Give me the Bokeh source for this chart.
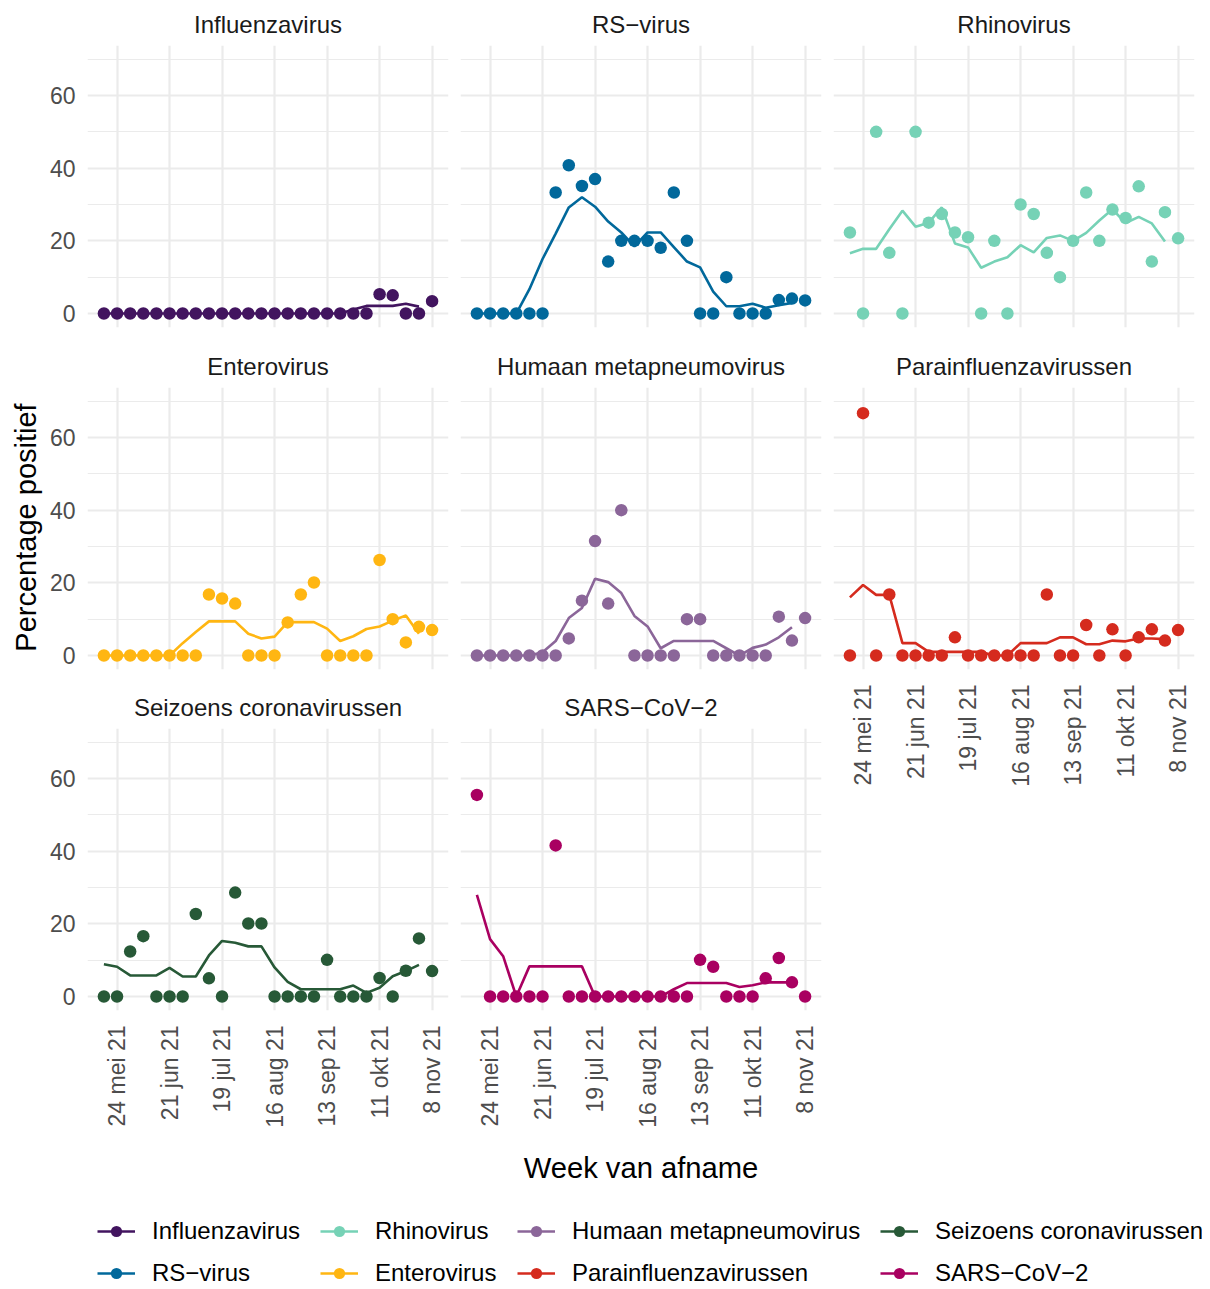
import math
import pandas as pd
from bokeh.plotting import figure
from bokeh.layouts import row, column
from bokeh.models import (Range1d, FixedTicker, LinearAxis, Grid, ColumnDataSource,
                          Legend, LegendItem, Label)
from bokeh.embed import file_html
from bokeh.resources import INLINE

nan = float("nan")

# ---------------- data ----------------
WEEKS = ["2021-05-17", "2021-05-24", "2021-05-31", "2021-06-07", "2021-06-14", "2021-06-21",
         "2021-06-28", "2021-07-05", "2021-07-12", "2021-07-19", "2021-07-26", "2021-08-02",
         "2021-08-09", "2021-08-16", "2021-08-23", "2021-08-30", "2021-09-06", "2021-09-13",
         "2021-09-20", "2021-09-27", "2021-10-04", "2021-10-11", "2021-10-18", "2021-10-25",
         "2021-11-01", "2021-11-08"]
TICK_DATES = ["2021-05-24", "2021-06-21", "2021-07-19", "2021-08-16", "2021-09-13",
              "2021-10-11", "2021-11-08"]
TICK_LABELS = ["24 mei 21", "21 jun 21", "19 jul 21", "16 aug 21", "13 sep 21",
               "11 okt 21", "8 nov 21"]
Y_TICKS = [0, 20, 40, 60]
Y_MINOR = [10, 30, 50, 70]

INFLUENZA_PCT = [0, 0, 0, 0, 0, 0, 0, 0, 0, 0, 0, 0, 0, 0, 0, 0, 0, 0, 0, 0, 0,
                 5.3, 5.0, 0, 0, 3.4]
INFLUENZA_AVG = [0, 0, 0, 0, 0, 0, 0, 0, 0, 0, 0, 0, 0, 0, 0, 0, 0, 0, 0,
                 1.1, 2.1, 2.1, 2.1, 2.7, 1.9, nan]

RS_PCT = [0, 0, 0, 0, 0, 0, 33.3, 40.8, 35.1, 37.0, 14.3, 20.0, 20.0, 20.0, 18.1, 33.3,
          20.0, 0, 0, 10.0, 0, 0, 0, 3.7, 4.1, 3.6]
RS_AVG = [0, 0, 0, 0, 6.7, 15.0, 22.0, 29.2, 32.0, 29.4, 25.3, 22.3, 18.5, 22.3, 22.3, 18.3,
          14.3, 12.7, 6.0, 2.0, 2.0, 2.7, 1.6, 2.3, 2.9, nan]

RHINO_PCT = [22.3, 0, 50.0, 16.7, 0, 50.0, 25.0, 27.4, 22.3, 21.0, 0, 20.0, 0, 30.0, 27.4,
             16.7, 10.0, 20.0, 33.3, 20.0, 28.6, 26.3, 35.0, 14.3, 27.9, 20.7]
RHINO_AVG = [16.6, 17.8, 17.8, 23.2, 28.3, 23.9, 25.0, 29.2, 19.3, 18.2, 12.6, 14.3, 15.5,
             18.8, 16.8, 20.8, 21.5, 20.0, 22.2, 25.6, 28.7, 24.9, 26.6, 24.8, 19.8, nan]

ENTERO_PCT = [0, 0, 0, 0, 0, 0, 0, 0, 16.8, 15.7, 14.3, 0, 0, 0, 9.1, 16.8, 20.1, 0, 0, 0,
              0, 26.3, 10.0, 3.6, 7.9, 7.0]
ENTERO_AVG = [0, 0, 0, 0, 0, 0, 3.4, 6.5, 9.4, 9.4, 9.4, 6.0, 4.7, 5.2, 9.2, 9.2, 9.2, 7.4,
              4.0, 5.3, 7.3, 8.0, 9.6, 11.0, 6.0, nan]

HMPV_PCT = [0, 0, 0, 0, 0, 0, 0, 4.7, 15.1, 31.5, 14.3, 40.0, 0, 0, 0, 0, 10.0, 10.0, 0, 0,
            0, 0, 0, 10.7, 4.1, 10.3]
HMPV_AVG = [0, 0, 0, 0, 0, 0.9, 4.0, 10.3, 13.1, 21.1, 20.2, 17.2, 10.9, 8.0, 2.0, 4.0, 4.0,
            4.0, 4.0, 2.0, 0, 2.1, 3.0, 5.0, 7.8, nan]

PARA_PCT = [0, 66.7, 0, 16.8, 0, 0, 0, 0, 5.0, 0, 0, 0, 0, 0, 0, 16.8, 0, 0, 8.4, 0, 7.2, 0,
            5.0, 7.2, 4.1, 7.0]
PARA_AVG = [16.0, 19.4, 16.7, 16.7, 3.4, 3.4, 1.0, 1.0, 1.0, 1.0, 1.0, 0, 0, 3.4, 3.4, 3.4,
            5.0, 5.0, 3.1, 3.1, 4.1, 3.9, 4.7, 4.7, 4.5, nan]

CORONA_PCT = [0, 0, 12.4, 16.6, 0, 0, 0, 22.7, 5.0, 0, 28.6, 20.1, 20.1, 0, 0, 0, 0, 10.1,
              0, 0, 0, 5.1, 0, 7.1, 16.0, 7.0]
CORONA_AVG = [8.9, 8.2, 5.8, 5.8, 5.8, 7.9, 5.5, 5.5, 11.3, 15.3, 14.8, 13.8, 13.8, 8.0, 4.0,
              2.0, 2.0, 2.0, 2.0, 3.0, 1.0, 2.4, 5.6, 7.0, 8.7, nan]

SARS_PCT = [55.5, 0, 0, 0, 0, 0, 41.6, 0, 0, 0, 0, 0, 0, 0, 0, 0, 0, 10.1, 8.2, 0, 0, 0, 5.0,
            10.6, 3.9, 0]
SARS_AVG = [28.0, 15.8, 11.1, 0, 8.3, 8.3, 8.3, 8.3, 8.3, 0, 0, 0, 0, 0, 0, 2.0, 3.7, 3.7,
            3.7, 3.7, 2.6, 3.1, 3.9, 3.9, 3.9, nan]

NAMES = ["Influenzavirus", "RS\u2212virus", "Rhinovirus", "Enterovirus",
         "Humaan metapneumovirus", "Parainfluenzavirussen", "Seizoens coronavirussen",
         "SARS\u2212CoV\u22122"]
COLORS = ["#42145F", "#01689B", "#76D2B6", "#FFB612", "#8B6699", "#D52B1E", "#275937",
          "#A90061"]
PCTS = [INFLUENZA_PCT, RS_PCT, RHINO_PCT, ENTERO_PCT, HMPV_PCT, PARA_PCT, CORONA_PCT, SARS_PCT]
AVGS = [INFLUENZA_AVG, RS_AVG, RHINO_AVG, ENTERO_AVG, HMPV_AVG, PARA_AVG, CORONA_AVG, SARS_AVG]

# ---------------- styling ----------------
FONT = "Liberation Sans"
GRID_COL = "#EBEBEB"
FRAME_W, FRAME_H = 361, 282

x_dates = pd.to_datetime(WEEKS)
x_ms = [int(t.value // 10**6) for t in x_dates]
tick_ms = [int(t.value // 10**6) for t in pd.to_datetime(TICK_DATES)]
span = x_ms[-1] - x_ms[0]
X0, X1 = x_ms[0] - 0.05 * span, x_ms[-1] + 0.05 * span
Y0, Y1 = -3.85, 73.77


def make_panel(i, left_axis, bottom_axis, mb_left, mb_right, mb_top, mb_bottom):
    p = figure(frame_width=FRAME_W, frame_height=FRAME_H,
               x_range=Range1d(X0, X1), y_range=Range1d(Y0, Y1),
               x_axis_location=None, y_axis_location=None,
               toolbar_location=None, output_backend="svg",
               min_border_left=mb_left, min_border_right=mb_right,
               min_border_top=mb_top, min_border_bottom=mb_bottom,
               outline_line_color=None, background_fill_color="white",
               border_fill_color="white", title=NAMES[i])
    p.center = [r for r in p.center if not isinstance(r, Grid)]
    p.title.align = "center"
    p.title.text_font = FONT
    p.title.text_font_size = "24px"
    p.title.text_font_style = "normal"
    p.title.text_color = "#1A1A1A"
    p.title.standoff = 16

    yg = Grid(dimension=1, ticker=FixedTicker(ticks=Y_TICKS, minor_ticks=Y_MINOR),
              grid_line_color=GRID_COL, grid_line_width=2.2,
              minor_grid_line_color=GRID_COL, minor_grid_line_width=1.2)
    xg = Grid(dimension=0, ticker=FixedTicker(ticks=tick_ms),
              grid_line_color=GRID_COL, grid_line_width=2.2)
    p.add_layout(yg)
    p.add_layout(xg)

    if left_axis:
        ax = LinearAxis(ticker=FixedTicker(ticks=Y_TICKS),
                        axis_line_color=None, major_tick_line_color=None,
                        minor_tick_line_color=None, major_tick_out=0, major_tick_in=0,
                        major_label_standoff=12,
                        major_label_text_font=FONT, major_label_text_font_size="23px",
                        major_label_text_color="#4D4D4D")
        p.add_layout(ax, "left")
    if bottom_axis:
        bx = LinearAxis(ticker=FixedTicker(ticks=tick_ms),
                        major_label_overrides=dict(zip(tick_ms, TICK_LABELS)),
                        major_label_orientation=math.pi / 2,
                        axis_line_color=None, major_tick_line_color=None,
                        minor_tick_line_color=None, major_tick_out=0, major_tick_in=0,
                        major_label_standoff=15,
                        major_label_text_font=FONT, major_label_text_font_size="23px",
                        major_label_text_color="#4D4D4D")
        p.add_layout(bx, "below")

    src = ColumnDataSource(dict(x=x_ms, pct=PCTS[i], avg=AVGS[i]))
    p.line("x", "avg", source=src, line_width=2.6, line_color=COLORS[i])
    p.scatter("x", "pct", source=src, size=12.5, fill_color=COLORS[i], line_color=COLORS[i],
              line_width=0)
    return p


# layout borders so the frames line up like facets
p_infl = make_panel(0, True, False, 43, 6, 45, 15)
p_rs = make_panel(1, False, False, 6, 6, 45, 15)
p_rhino = make_panel(2, False, False, 6, 8, 45, 15)
p_entero = make_panel(3, True, False, 43, 6, 45, 14)
p_hmpv = make_panel(4, False, False, 6, 6, 45, 14)
p_para = make_panel(5, False, True, 6, 8, 45, 125)
p_corona = make_panel(6, True, True, 43, 6, 45, 125)
p_sars = make_panel(7, False, True, 6, 6, 45, 125)

TOP_H = (45 + 282 + 15) + (45 + 282 + 14) + (45 + 282 + 125)
TOTAL_W = 1202

# y-axis title
YT_W = 44
ytf = figure(width=YT_W, height=TOP_H, x_range=Range1d(0, YT_W), y_range=Range1d(0, TOP_H),
             min_border=0, x_axis_location=None, y_axis_location=None,
             toolbar_location=None, output_backend="svg", outline_line_color=None)
ytf.center = [r for r in ytf.center if not isinstance(r, Grid)]
ytf.add_layout(Label(x=25, y=TOP_H - 527, x_units="screen", y_units="screen",
                     text="Percentage positief", angle=math.pi / 2, text_align="center",
                     text_baseline="middle", text_font=FONT, text_font_size="29px",
                     text_color="black"))

# bottom: x title + legend
BOT_H = 1289 - TOP_H
bf = figure(width=TOTAL_W, height=BOT_H, x_range=Range1d(0, TOTAL_W), y_range=Range1d(0, BOT_H),
            min_border=0, x_axis_location=None, y_axis_location=None,
            toolbar_location=None, output_backend="svg", outline_line_color=None)
bf.center = [r for r in bf.center if not isinstance(r, Grid)]
bf.add_layout(Label(x=640.5, y=BOT_H - 32, x_units="screen", y_units="screen",
                    text="Week van afname", text_align="center", text_baseline="middle",
                    text_font=FONT, text_font_size="29.2px", text_color="black"))

# legend proxies (placed outside the visible range; only their swatches are shown)
items = []
for i in range(8):
    s = ColumnDataSource(dict(x=[-1000], y=[-1000]))
    r1 = bf.line("x", "y", source=s, line_width=2.6, line_color=COLORS[i])
    r2 = bf.scatter("x", "y", source=s, size=12, fill_color=COLORS[i], line_color=COLORS[i],
                    line_width=0)
    items.append(LegendItem(label=NAMES[i], renderers=[r1, r2]))

LEG_X = [97, 320, 517, 880]
for c in range(4):
    lg = Legend(items=items[2 * c:2 * c + 2], location=(LEG_X[c], 2),
                orientation="vertical", glyph_width=38, glyph_height=28,
                label_standoff=17, spacing=14, padding=0, margin=0,
                border_line_color=None, background_fill_alpha=0,
                label_text_font=FONT, label_text_font_size="24px",
                label_text_color="black", label_height=28)
    bf.add_layout(lg)

col1 = column(p_infl, p_entero, p_corona, spacing=0)
col2 = column(p_rs, p_hmpv, p_sars, spacing=0)
col3 = column(p_rhino, p_para, spacing=0)
top = row(ytf, col1, col2, col3, spacing=0)
page = column(top, bf, spacing=0)

open("out.html", "w").write(file_html(page, INLINE))
